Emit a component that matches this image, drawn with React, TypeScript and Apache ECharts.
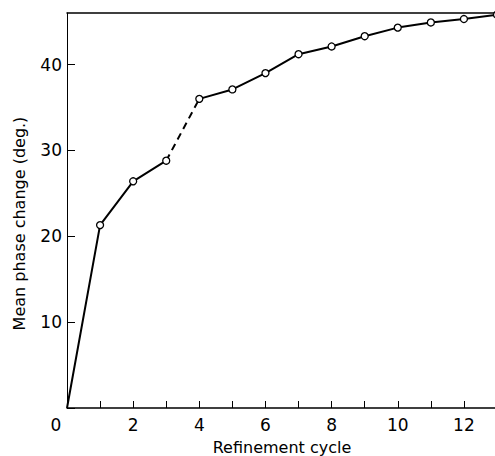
import React, { useEffect, useRef } from "react";
import * as echarts from "echarts";

const cycles = [0, 1, 2, 3, 4, 5, 6, 7, 8, 9, 10, 11, 12, 13];
const phaseChange = [0, 21.3, 26.4, 28.8, 36.0, 37.1, 39.0, 41.2, 42.1, 43.3, 44.3, 44.9, 45.3, 45.8];
const yTicks = [10, 20, 30, 40];
const xLabelCycles = [0, 2, 4, 6, 8, 10, 12];

const FONT = "DejaVu Sans";

export default function App() {
  const ref = useRef<HTMLDivElement>(null);
  useEffect(() => {
    if (!ref.current) return;
    const chart = echarts.init(ref.current, null, { renderer: "svg" });
    const pts = cycles.map((c, i) => [c, phaseChange[i]]);
    const solidA = pts.slice(0, 4);
    const dashed = pts.slice(3, 5);
    const solidB = pts.slice(4);
    const markers = pts.slice(1);
    const lineStyle = { color: "#000", width: 2 };
    chart.setOption({
      animation: false,
      backgroundColor: "#fff",
      grid: {
        left: 67,
        top: 13,
        width: 430,
        height: 395,
        show: false,
        containLabel: false,
        outerBoundsMode: "none",
      },
      xAxis: [
        {
          type: "value",
          min: 0,
          max: 13,
          interval: 1,
          name: "Refinement cycle",
          nameLocation: "middle",
          nameGap: 31,
          nameTextStyle: { fontFamily: FONT, fontSize: 16, color: "#000" },
          axisLine: { show: true, onZero: false, lineStyle: { color: "#000", width: 1.5 } },
          axisTick: { show: true, inside: true, length: 7, lineStyle: { color: "#000", width: 1 } },
          splitLine: { show: false },
          axisLabel: {
            showMaxLabel: false,
            margin: 8,
            fontFamily: FONT,
            fontSize: 17,
            color: "#000",
            formatter: (v: number) =>
              v === 0 ? "{z|0}" : xLabelCycles.includes(v) ? String(v) : "",
            rich: { z: { fontFamily: FONT, fontSize: 17, color: "#000", padding: [0, 22, 0, 0] } },
          },
        },
        {
          type: "value",
          position: "top",
          min: 0,
          max: 13,
          axisLine: { show: true, onZero: false, lineStyle: { color: "#000", width: 1.5 } },
          axisTick: { show: false },
          axisLabel: { show: false },
          splitLine: { show: false },
        },
      ],
      yAxis: {
        type: "value",
        min: 0,
        max: 46,
        interval: 10,
        name: "Mean phase change (deg.)",
        nameLocation: "middle",
        nameGap: 40,
        nameTextStyle: { fontFamily: FONT, fontSize: 16, color: "#000", padding: [0, 26, 0, 0] },
        axisLine: { show: true, lineStyle: { color: "#000", width: 1 } },
        axisTick: { show: true, inside: true, length: 8, lineStyle: { color: "#000", width: 1 } },
        splitLine: { show: false },
        axisLabel: {
          showMaxLabel: false,
          margin: 5,
          fontFamily: FONT,
          fontSize: 17,
          color: "#000",
          formatter: (v: number) => (yTicks.includes(v) ? String(v) : ""),
        },
      },
      series: [
        { type: "line", data: solidA, showSymbol: false, lineStyle, clip: false, z: 2 },
        { type: "line", data: dashed, showSymbol: false, lineStyle: { ...lineStyle, type: [7, 5] }, clip: false, z: 2 },
        { type: "line", data: solidB, showSymbol: false, lineStyle, clip: false, z: 2 },
        {
          type: "scatter",
          data: markers,
          symbol: "circle",
          symbolSize: 7,
          itemStyle: { color: "#fff", borderColor: "#000", borderWidth: 1.3, opacity: 1 },
          clip: false,
          z: 3,
        },
      ],
    });
    return () => chart.dispose();
  }, []);
  return (
    <div
      ref={ref}
      style={{ position: "absolute", left: 0, top: 0, width: 495, height: 456, background: "#fff" }}
    />
  );
}
